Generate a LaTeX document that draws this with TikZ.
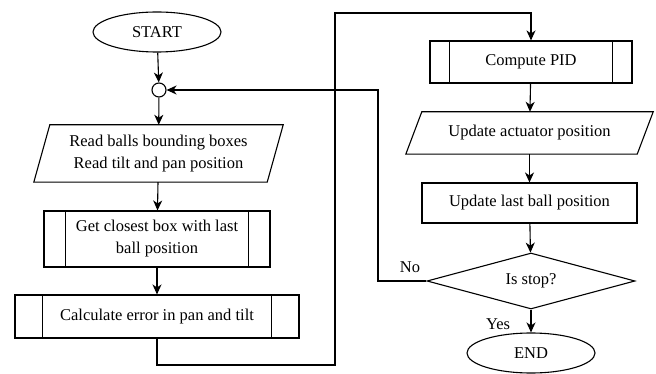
\documentclass[tikz,border=0pt]{standalone}
\usepackage{fontspec}
\setmainfont{Liberation Serif}
\usetikzlibrary{shapes.geometric,arrows.meta}
\begin{document}
\begin{tikzpicture}[x=1pt,y=-1pt,
  every node/.style={font=\fontsize{16.5}{22}\selectfont, align=center, inner sep=0pt},
  line/.style={line width=1.1pt},
  flow/.style={line, -{Stealth[length=10pt,width=9pt,inset=3pt]}},
  term/.style={ellipse, draw, line width=1.1pt, minimum width=128pt, minimum height=40pt},
  box/.style={rectangle, draw, line width=1.1pt},
  iobox/.style={rectangle}]
\useasboundingbox (0,0) rectangle (656,374);

% nodes
\node[term] (start) at (157,32) {START};
\node[circle, draw, line width=1.1pt, minimum size=14pt] (join) at (159,90) {};
\node[iobox, minimum width=233pt, minimum height=57pt] (read) at (158.5,153.5)
  {Read balls bounding boxes\\Read tilt and pan position};
\node[box, minimum width=226pt, minimum height=56pt] (get) at (157,239)
  {Get closest box with last\\ball position};
\node[box, minimum width=284pt, minimum height=43pt] (calc) at (157,316.5)
  {Calculate error in pan and tilt};
\node[box, minimum width=202pt, minimum height=42pt] (pid) at (531,62) {Compute PID};
\node[iobox, minimum width=231pt, minimum height=42pt] (upd) at (529.5,133)
  {Update actuator position};
\node[box, minimum width=215pt, minimum height=40pt] (last) at (529.5,203)
  {Update last ball position};
\node[diamond, draw, line width=1.1pt, aspect=3.7, minimum width=208pt, minimum height=56pt] (stop) at (531,281) {Is stop?};
\node[term] (end) at (531,353) {END};

% parallelogram outlines of the input/output steps
\foreach \n in {read,upd}
  \draw[line] ([xshift=8pt]\n.north west) -- ([xshift=8pt]\n.north east)
    -- ([xshift=-8pt]\n.south east) -- ([xshift=-8pt]\n.south west) -- cycle;

% side bars of the predefined-process boxes
\foreach \n/\d in {get/22,calc/28,pid/20}{
  \draw[line] ([xshift=\d pt]\n.north west) -- ([xshift=\d pt]\n.south west);
  \draw[line] ([xshift=-\d pt]\n.north east) -- ([xshift=-\d pt]\n.south east);
}

% route points
\coordinate (r1) at (335,365);
\coordinate (r2) at (335,13);
\coordinate (l1) at (378,90);

% connectors
\draw[flow] (start) -- (join);
\draw[flow] (join) -- (read);
\draw[flow] (read) -- (get);
\draw[flow] (get) -- (calc);
\draw[flow] (calc.south) |- (r1) -- (r2) -| (pid.north);
\draw[flow] (pid) -- (upd);
\draw[flow] (upd) -- (last);
\draw[flow] (last) -- (stop);
\draw[flow] (stop) -- (end);
\draw[flow] (stop.west) -| (l1) -- (join.east);

% branch labels
\node (no) at (410,267) {No};
\node (yes) at (498,324) {Yes};
\end{tikzpicture}
\end{document}
